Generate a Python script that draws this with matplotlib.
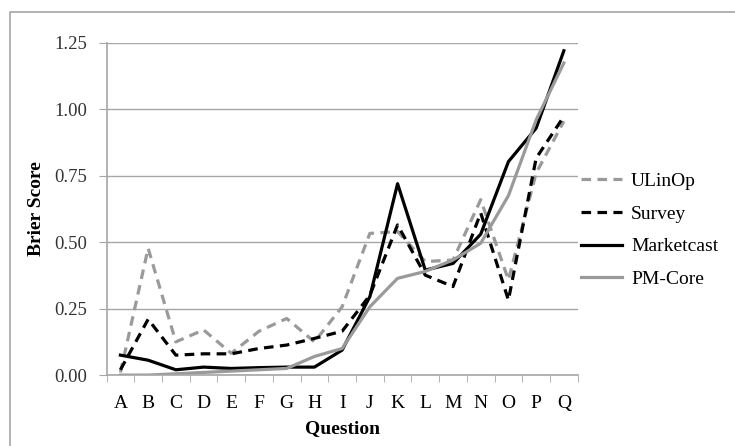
import matplotlib
matplotlib.use('Agg')
import matplotlib.pyplot as plt
from matplotlib.lines import Line2D

questions = list('ABCDEFGHIJKLMNOPQ')
ulinop = [0.01, 0.477, 0.125, 0.17, 0.082, 0.165, 0.213, 0.125, 0.257, 0.533, 0.54, 0.427,
          0.433, 0.66, 0.358, 0.76, 0.955]
survey = [0.02, 0.21, 0.075, 0.08, 0.08, 0.10, 0.113, 0.138, 0.165, 0.30, 0.565, 0.376,
          0.333, 0.61, 0.282, 0.816, 0.973]
marketcast = [0.075, 0.056, 0.02, 0.03, 0.025, 0.028, 0.03, 0.03, 0.094, 0.295, 0.72, 0.395,
              0.42, 0.53, 0.803, 0.929, 1.22]
pm_core = [0.0, 0.0, 0.005, 0.01, 0.015, 0.02, 0.025, 0.07, 0.10, 0.257, 0.364, 0.39,
           0.433, 0.496, 0.675, 0.96, 1.174]
y_ticks = [0.0, 0.25, 0.5, 0.75, 1.0, 1.25]

plt.rcParams['font.family'] = ['Liberation Serif', 'DejaVu Serif']

gray = '#9a9a9a'
axis_gray = '#a6a6a6'

fig = plt.figure(figsize=(7.35, 4.46), dpi=100)
ax = fig.add_axes([0.145, 0.159, 0.641, 0.745])

x = list(range(len(questions)))
ax.plot(x, ulinop, color=gray, lw=2.3, ls=(0, (3, 2)), label='ULinOp')
ax.plot(x, survey, color='black', lw=2.3, ls=(0, (3, 2)), label='Survey')
ax.plot(x, marketcast, color='black', lw=2.3, label='Marketcast')
ax.plot(x, pm_core, color=gray, lw=2.3, label='PM-Core')

ax.set_xlim(-0.5, len(questions) - 0.5)
ax.set_ylim(0, 1.25)
ax.set_yticks(y_ticks)
ax.set_yticklabels(['%.2f' % v for v in y_ticks])
ax.set_xticks(x)
ax.set_xticklabels(questions)
ax.set_xticks([i - 0.5 for i in range(len(questions) + 1)], minor=True)
ax.tick_params(axis='x', which='major', length=0, labelsize=14, pad=14)
ax.tick_params(axis='x', which='minor', length=5, color=axis_gray, direction='out')
ax.tick_params(axis='y', length=6, color=axis_gray, labelsize=13.5, pad=8, labelcolor='#333333')

ax.grid(axis='y', color=axis_gray, lw=1.0)
ax.set_axisbelow(True)
for s in ['top', 'right']:
    ax.spines[s].set_visible(False)
for s in ['left', 'bottom']:
    ax.spines[s].set_color(axis_gray)
    ax.spines[s].set_linewidth(1.2)

ax.set_xlabel('Question', fontsize=14, fontweight='bold', labelpad=6)
ax.set_ylabel('Brier Score', fontsize=14, fontweight='bold', labelpad=7)

ax.legend(loc='center left', bbox_to_anchor=(1.008, 0.436), frameon=False, fontsize=14,
          handlelength=2.1, handletextpad=0.45, labelspacing=0.78, borderaxespad=0, borderpad=0)

# рамка диаграммы (видны только верх и левый край)
fig.add_artist(Line2D([10 / 735, 10 / 735, 1.0], [0.0, 1 - 12 / 446, 1 - 12 / 446],
                      transform=fig.transFigure, color=axis_gray, lw=1.2))

plt.savefig('out.png', dpi=100)
